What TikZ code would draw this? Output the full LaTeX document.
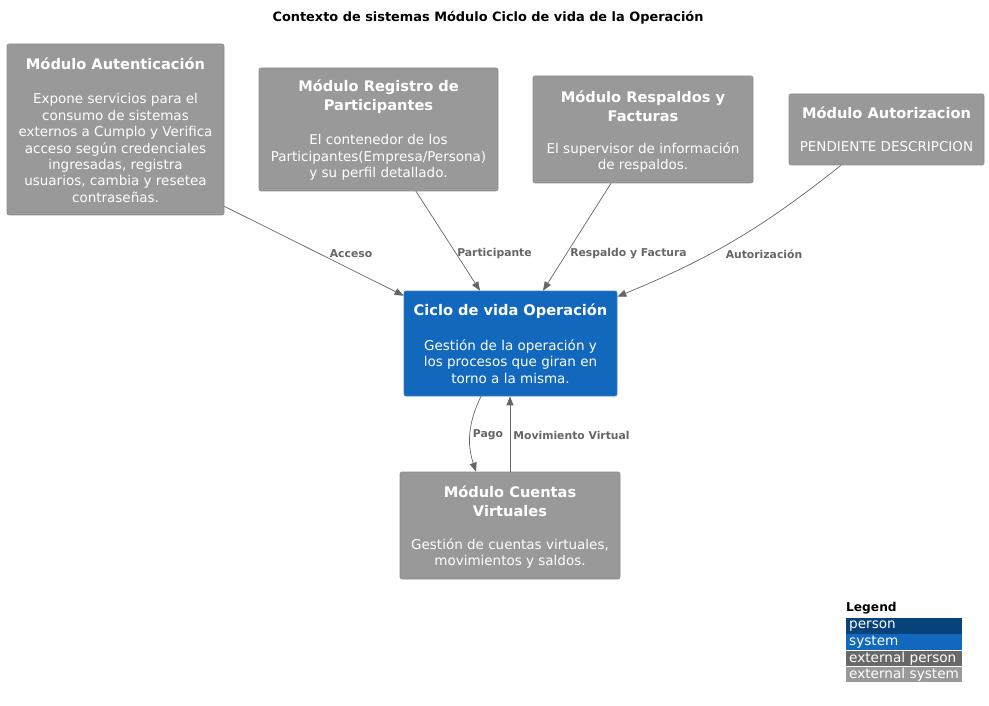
\documentclass[tikz,border=0pt]{standalone}
\usepackage{fontspec}
\setmainfont{DejaVu Sans}
\usetikzlibrary{arrows.meta,calc}
\definecolor{extsys}{HTML}{999999}
\definecolor{extsysb}{HTML}{8C8C8C}
\definecolor{sys}{HTML}{1168BD}
\definecolor{sysb}{HTML}{3C7FC0}
\definecolor{pers}{HTML}{08427B}
\definecolor{extpers}{HTML}{686868}
\definecolor{arr}{HTML}{666666}
\begin{document}
\begin{tikzpicture}[x=1pt,y=1pt,
  box/.style={draw=extsysb, fill=extsys, rounded corners=2pt, line width=0.6pt, inner sep=0pt},
  sysbox/.style={box, draw=sysb, fill=sys},
  ttl/.style={text=white, font=\fontsize{14.6}{19}\selectfont\bfseries, align=center, inner sep=0pt},
  dsc/.style={text=white, font=\fontsize{13.5}{16.4}\selectfont, align=center, inner sep=0pt},
  rel/.style={draw=arr, line width=0.7pt, -{Triangle[length=9pt,width=7pt]}},
  lbl/.style={text=arr, font=\fontsize{10.8}{12}\selectfont\bfseries, inner sep=0pt},
  legbar/.style={anchor=north west, minimum height=15.5pt, text width=110pt, inner xsep=3pt, inner ysep=0pt, align=left, text=white, font=\fontsize{13.6}{15}\selectfont}]
\useasboundingbox[fill=white] (0,0) rectangle (989,-706);

\node[font=\fontsize{12.9}{15}\selectfont\bfseries, inner sep=0pt] (title) at (488,-18) {Contexto de sistemas Módulo Ciclo de vida de la Operación};

% Autenticacion
\node[box, minimum width=217pt, minimum height=171pt] (aut) at (115.5,-129.5) {};
\node[ttl] (autT) at (115.5,-64) {Módulo Autenticación};
\node[dsc] (autD) at (115.5,-148) {Expone servicios para el\\consumo de sistemas\\externos a Cumplo y Verifica\\acceso según credenciales\\ingresadas, registra\\usuarios, cambia y resetea\\contraseñas.};

% Registro
\node[box, minimum width=239pt, minimum height=123pt] (reg) at (378.5,-129.5) {};
\node[ttl] (regT) at (378.5,-96.5) {Módulo Registro de\\Participantes};
\node[dsc] (regD) at (378.5,-157.5) {El contenedor de los\\Participantes(Empresa/Persona)\\y su perfil detallado.};

% Respaldos
\node[box, minimum width=220pt, minimum height=107pt] (res) at (643,-129.5) {};
\node[ttl] (resT) at (643,-106) {Módulo Respaldos y\\Facturas};
\node[dsc] (resD) at (643,-157.5) {El supervisor de información\\de respaldos.};

% Autorizacion
\node[box, minimum width=195pt, minimum height=71pt] (auz) at (886.5,-129.5) {};
\node[ttl] (auzT) at (886.5,-113) {Módulo Autorizacion};
\node[dsc] (auzD) at (886.5,-147) {PENDIENTE DESCRIPCION};

% Ciclo
\node[sysbox, minimum width=213pt, minimum height=105pt] (cic) at (510.5,-343.5) {};
\node[ttl] (cicT) at (510.5,-311) {Ciclo de vida Operación};
\node[dsc] (cicD) at (510.5,-361.5) {Gestión de la operación y\\los procesos que giran en\\torno a la misma.};

% Cuentas
\node[box, minimum width=220pt, minimum height=107pt] (cue) at (510,-525.5) {};
\node[ttl] (cueT) at (510,-501.5) {Módulo Cuentas\\Virtuales};
\node[dsc] (cueD) at (510,-553.5) {Gestión de cuentas virtuales,\\movimientos y saldos.};

% connectors
\draw[rel] ([yshift=9pt]aut.south east) -- ([yshift=-5pt]cic.north west);
\draw[rel] ([xshift=37.5pt]reg.south) -- ([xshift=-30.5pt]cic.north);
\draw[rel] ([xshift=-32pt]res.south) -- ([xshift=32.5pt]cic.north);
\draw[rel] ([xshift=-45.5pt]auz.south) to[bend left=8] ([yshift=-6pt]cic.north east);
\draw[rel] ([xshift=-29.5pt]cic.south) to[bend right=22] ([xshift=-34pt]cue.north);
\draw[rel] (cue.north) -- (cue.north |- cic.south);

\node[lbl] (lAcc) at (351,-254) {Acceso};
\node[lbl] (lPar) at (494.5,-254) {Participante};
\node[lbl] (lRes) at (628.5,-254) {Respaldo y Factura};
\node[lbl] (lAuz) at (764,-254) {Autorización};
\node[lbl] (lPag) at (488,-435) {Pago};
\node[lbl] (lMov) at (571.5,-435) {Movimiento Virtual};

% legend
\node[anchor=west, font=\fontsize{12.2}{14}\selectfont\bfseries, inner sep=0pt] (legT) at (846,-608) {Legend};
\node[legbar, fill=pers] (lg1) at (846,-618) {person};
\node[legbar, fill=sys] (lg2) at (846,-634) {system};
\node[legbar, fill=extpers] (lg3) at (846,-650.5) {external person};
\node[legbar, fill=extsys] (lg4) at (846,-666.5) {external system};
\end{tikzpicture}
\end{document}
